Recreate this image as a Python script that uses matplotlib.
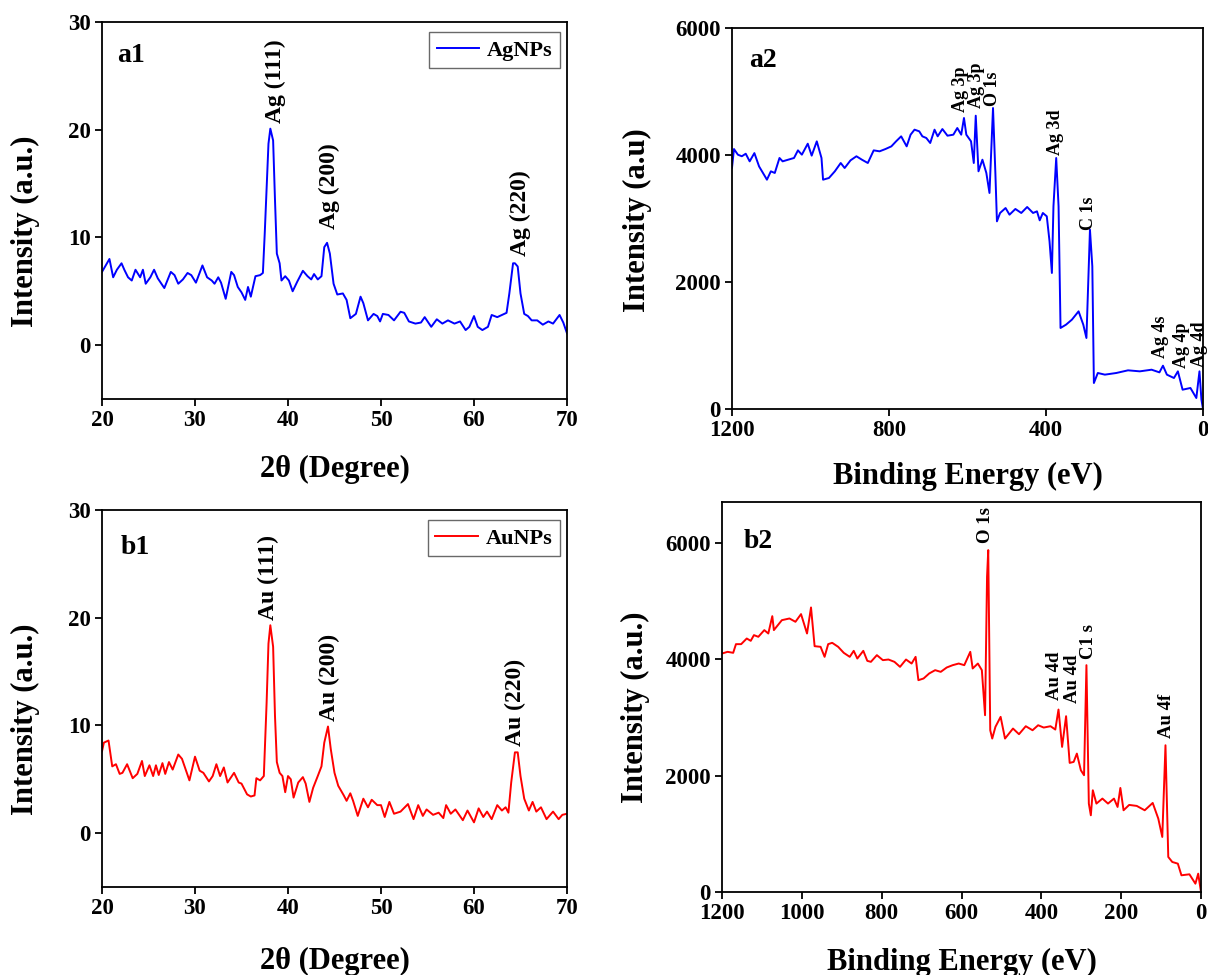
import matplotlib
matplotlib.use('Agg')
import matplotlib.pyplot as plt

plt.rcParams['font.family'] = ['Liberation Serif', 'DejaVu Serif']
plt.rcParams['font.weight'] = 'bold'
plt.rcParams['axes.labelweight'] = 'bold'

# XRD pattern, silver nanoparticles
ag_2theta = [20.0, 20.8, 21.2, 21.6, 22.1, 22.4, 22.8, 23.2, 23.6, 24.1, 24.4, 24.7,
             25.2, 25.6, 26.0, 26.7, 27.4, 27.8, 28.2, 28.7, 29.2, 29.6, 30.1, 30.8,
             31.3, 31.8, 32.1, 32.5, 32.8, 33.3, 33.9, 34.2, 34.6, 35.0, 35.4, 35.7,
             36.0, 36.5, 37.0, 37.3, 37.5, 37.9, 38.1, 38.4, 38.6, 38.8, 39.1, 39.3,
             39.7, 40.1, 40.5, 41.0, 41.6, 42.1, 42.5, 42.8, 43.2, 43.6, 43.9, 44.2,
             44.5, 44.9, 45.3, 45.9, 46.3, 46.7, 47.3, 47.8, 48.1, 48.6, 49.2, 49.6,
             49.9, 50.2, 50.8, 51.4, 52.1, 52.5, 53.0, 53.7, 54.3, 54.7, 55.4, 56.0,
             56.6, 57.2, 57.9, 58.5, 59.1, 59.5, 60.0, 60.4, 60.9, 61.5, 61.9, 62.5,
             63.0, 63.5, 63.8, 64.2, 64.4, 64.7, 65.0, 65.4, 65.8, 66.2, 66.8, 67.4,
             68.0, 68.5, 69.2, 69.6, 70.0]
ag_xrd = [6.8, 8.0, 6.3, 7.0, 7.6, 7.0, 6.3, 6.0, 7.0, 6.3, 7.0, 5.7,
          6.3, 7.0, 6.2, 5.3, 6.8, 6.5, 5.7, 6.1, 6.7, 6.5, 5.8, 7.4,
          6.3, 6.0, 5.7, 6.3, 5.8, 4.3, 6.8, 6.5, 5.4, 4.9, 4.2, 5.4,
          4.5, 6.4, 6.5, 6.7, 10.4, 18.7, 20.1, 19.0, 13.5, 8.5, 7.6, 6.0,
          6.4, 6.0, 5.0, 5.9, 6.9, 6.4, 6.1, 6.6, 6.1, 6.4, 9.1, 9.5,
          8.5, 5.7, 4.7, 4.8, 4.2, 2.5, 2.9, 4.5, 3.9, 2.3, 2.9, 2.7,
          2.2, 2.9, 2.8, 2.3, 3.1, 3.0, 2.2, 2.0, 2.1, 2.6, 1.7, 2.4,
          2.0, 2.3, 2.0, 2.2, 1.4, 1.7, 2.7, 1.7, 1.4, 1.7, 2.8, 2.6,
          2.8, 3.0, 4.8, 7.6, 7.6, 7.3, 4.8, 2.9, 2.7, 2.3, 2.3, 1.9,
          2.2, 2.0, 2.8, 2.1, 1.1]

# XRD pattern, gold nanoparticles
au_2theta = [20.0, 20.2, 20.7, 21.1, 21.5, 21.9, 22.2, 22.7, 23.3, 23.8, 24.3, 24.6,
             25.1, 25.5, 25.8, 26.1, 26.5, 26.8, 27.2, 27.6, 28.2, 28.6, 29.0, 29.4,
             30.0, 30.5, 30.9, 31.5, 31.9, 32.3, 32.7, 33.1, 33.5, 34.2, 34.7, 35.0,
             35.6, 36.0, 36.4, 36.6, 37.0, 37.4, 37.7, 37.9, 38.1, 38.4, 38.6, 38.8,
             39.1, 39.4, 39.7, 40.0, 40.3, 40.6, 41.1, 41.6, 41.9, 42.3, 42.7, 43.2,
             43.6, 43.9, 44.3, 44.6, 45.0, 45.4, 46.0, 46.3, 46.7, 47.0, 47.5, 48.1,
             48.6, 49.0, 49.6, 50.0, 50.4, 50.9, 51.4, 52.1, 52.9, 53.5, 54.0, 54.5,
             54.9, 55.6, 56.2, 56.7, 57.0, 57.5, 58.0, 58.8, 59.3, 60.0, 60.5, 61.0,
             61.4, 61.9, 62.5, 63.0, 63.4, 63.7, 64.0, 64.4, 64.7, 65.0, 65.4, 65.9,
             66.3, 66.7, 67.2, 67.8, 68.5, 69.1, 69.5, 70.0]
au_xrd = [7.6, 8.4, 8.6, 6.2, 6.4, 5.5, 5.6, 6.4, 5.1, 5.5, 6.7, 5.3,
          6.3, 5.3, 6.3, 5.4, 6.5, 5.5, 6.6, 5.9, 7.3, 6.9, 5.9, 4.9,
          7.1, 5.8, 5.6, 4.8, 5.3, 6.4, 5.3, 6.1, 4.7, 5.6, 4.7, 4.6,
          3.6, 3.4, 3.5, 5.1, 4.9, 5.3, 12.1, 17.6, 19.3, 17.3, 10.9, 6.6,
          5.6, 5.3, 3.8, 5.3, 5.0, 3.3, 4.7, 5.2, 4.6, 2.9, 4.2, 5.3,
          6.2, 8.4, 9.9, 7.8, 5.6, 4.4, 3.5, 3.0, 3.7, 3.0, 1.6, 3.2,
          2.4, 3.1, 2.6, 2.6, 1.5, 2.9, 1.8, 2.0, 2.7, 1.3, 2.6, 1.6,
          2.2, 1.7, 1.9, 1.4, 2.6, 1.8, 2.2, 1.2, 2.1, 1.0, 2.3, 1.5,
          2.0, 1.3, 2.6, 2.1, 2.4, 1.9, 4.7, 7.5, 7.5, 5.3, 3.2, 2.1,
          2.9, 2.0, 2.4, 1.3, 2.0, 1.3, 1.7, 1.8]

# XPS survey, silver nanoparticles
ag_be = [1200, 1195, 1185, 1175, 1165, 1155, 1143, 1131, 1116, 1111, 1101, 1091,
         1079, 1071, 1057, 1042, 1032, 1022, 1007, 997, 984, 972, 968, 953,
         938, 923, 913, 898, 883, 869, 854, 839, 824, 809, 794, 782,
         769, 755, 745, 735, 723, 715, 705, 695, 684, 676, 664, 651,
         636, 626, 616, 609, 603, 591, 584, 579, 572, 562, 552, 544,
         535, 529, 525, 517, 503, 493, 478, 463, 448, 433, 423, 416,
         408, 398, 391, 385, 381, 374, 368, 363, 349, 334, 317, 305,
         297, 288, 282, 278, 268, 250, 221, 191, 161, 131, 111, 102,
         92, 74, 64, 52, 32, 17, 9, 4, 0]
ag_xps = [3800, 4094, 4005, 3980, 4020, 3900, 4030, 3820, 3664, 3611, 3743, 3717,
          3953, 3900, 3926, 3953, 4073, 4005, 4178, 3990, 4215, 3953, 3611, 3638,
          3743, 3874, 3795, 3916, 3980, 3926, 3874, 4073, 4058, 4094, 4136, 4215,
          4294, 4136, 4320, 4399, 4373, 4294, 4268, 4189, 4399, 4294, 4409, 4304,
          4320, 4425, 4320, 4583, 4320, 4215, 3874, 4619, 3743, 3926, 3717, 3402,
          4740, 3717, 2955, 3087, 3165, 3060, 3150, 3087, 3181, 3087, 3113, 2971,
          3087, 3034, 2640, 2142, 3192, 3953, 3192, 1276, 1328, 1407, 1538, 1328,
          1118, 2824, 2247, 409, 567, 541, 567, 609, 593, 619, 577, 682,
          541, 488, 593, 304, 331, 173, 593, 147, 0]

# XPS survey, gold nanoparticles
au_be = [1200, 1186, 1172, 1165, 1152, 1138, 1128, 1120, 1109, 1094, 1084, 1074,
         1070, 1060, 1050, 1031, 1016, 1002, 987, 977, 968, 953, 943, 934,
         924, 909, 895, 880, 870, 861, 846, 836, 827, 812, 797, 783,
         768, 754, 739, 725, 715, 708, 695, 681, 666, 652, 637, 622,
         607, 593, 578, 572, 559, 549, 541, 536, 533, 528, 523, 515,
         502, 491, 471, 456, 439, 422, 408, 394, 377, 365, 357, 348,
         338, 329, 319, 311, 301, 293, 287, 281, 276, 271, 262, 247,
         233, 218, 209, 202, 194, 180, 161, 141, 121, 107, 97, 89,
         82, 72, 58, 49, 29, 14, 7, 0]
au_xps = [4097, 4126, 4109, 4258, 4258, 4355, 4315, 4413, 4384, 4499, 4441, 4739,
          4499, 4585, 4670, 4699, 4642, 4774, 4441, 4888, 4223, 4212, 4040, 4258,
          4281, 4212, 4109, 4040, 4143, 4011, 4143, 3971, 3954, 4069, 3983, 3994,
          3954, 3868, 3994, 3925, 4040, 3639, 3668, 3754, 3811, 3782, 3857, 3897,
          3925, 3897, 4126, 3840, 3925, 3811, 3037, 5415, 5874, 2779, 2636, 2837,
          3009, 2636, 2808, 2711, 2848, 2779, 2865, 2825, 2848, 2791, 3135, 2493,
          3020, 2218, 2235, 2378, 2092, 2006, 3897, 1519, 1318, 1748, 1519, 1605,
          1519, 1605, 1461, 1788, 1404, 1496, 1479, 1404, 1530, 1261, 946, 2521,
          602, 516, 487, 287, 304, 143, 315, 0]

# peak labels: text, x, y
ag_xrd_peaks = [('Ag (111)', 38.6, 20.6), ('Ag (200)', 44.5, 10.8), ('Ag (220)', 65.0, 8.3)]
au_xrd_peaks = [('Au (111)', 37.9, 19.8), ('Au (200)', 44.5, 10.4), ('Au (220)', 64.5, 8.1)]
ag_xps_peaks = [('Ag 3p', 618, 4680), ('Ag 3p', 578, 4740), ('O 1s', 537, 4770),
                ('Ag 3d', 376, 4000), ('C 1s', 291, 2820), ('Ag 4s', 109, 800),
                ('Ag 4p', 55, 645), ('Ag 4d', 10, 660)]
au_xps_peaks = [('O 1s', 539, 5990), ('Au 4d', 368, 3290), ('Au 4d', 323, 3240),
                ('C1 s', 283, 4000), ('Au 4f', 87, 2640)]

W, H = 1208, 975
fig = plt.figure(figsize=(W / 100, H / 100), dpi=100)


def add_axes(left, top, right, bottom):
    return fig.add_axes([left / W, 1 - bottom / H, (right - left) / W, (bottom - top) / H])


ax_a1 = add_axes(102, 22, 567, 399)
ax_a2 = add_axes(732, 28, 1203, 409)
ax_b1 = add_axes(102, 510, 567, 887)
ax_b2 = add_axes(722, 502, 1201, 892)


def style(ax, ylabel, xlabel, ylab_xy, xlab_y):
    for s in ax.spines.values():
        s.set_linewidth(1.3)
    ax.tick_params(direction='out', length=5, width=1.3, labelsize=16.5, pad=3,
                   top=False, right=False)
    for t in ax.get_xticklabels() + ax.get_yticklabels():
        t.set_fontweight('bold')
    ax.set_ylabel(ylabel, fontsize=22, fontweight='bold')
    ax.set_xlabel(xlabel, fontsize=22, fontweight='bold')
    ax.yaxis.set_label_coords(*ylab_xy)
    ax.xaxis.set_label_coords(0.5, xlab_y)


# a1: XRD silver
ax_a1.plot(ag_2theta, ag_xrd, color='#0000ff', lw=1.4, label='AgNPs')
ax_a1.set_xlim(20, 70)
ax_a1.set_ylim(-5, 30)
ax_a1.set_xticks(range(20, 71, 10))
ax_a1.set_yticks([0, 10, 20, 30])
for txt, x, y in ag_xrd_peaks:
    ax_a1.text(x, y, txt, rotation=90, ha='center', va='bottom', fontsize=17, fontweight='bold')
ax_a1.text(0.032, 0.91, 'a1', transform=ax_a1.transAxes, fontsize=20, fontweight='bold', va='center')
style(ax_a1, 'Intensity (a.u.)', '2θ (Degree)', (-0.133, 0.446), -0.148)

# b1: XRD gold
ax_b1.plot(au_2theta, au_xrd, color='#ff0000', lw=1.4, label='AuNPs')
ax_b1.set_xlim(20, 70)
ax_b1.set_ylim(-5, 30)
ax_b1.set_xticks(range(20, 71, 10))
ax_b1.set_yticks([0, 10, 20, 30])
for txt, x, y in au_xrd_peaks:
    ax_b1.text(x, y, txt, rotation=90, ha='center', va='bottom', fontsize=17, fontweight='bold')
ax_b1.text(0.04, 0.90, 'b1', transform=ax_b1.transAxes, fontsize=20, fontweight='bold', va='center')
style(ax_b1, 'Intensity (a.u.)', '2θ (Degree)', (-0.133, 0.446), -0.158)

for ax in (ax_a1, ax_b1):
    leg = ax.legend(loc='upper right', bbox_to_anchor=(0.985, 0.973), borderaxespad=0,
                    fancybox=False, handlelength=1.9, handletextpad=0.35, borderpad=0.35,
                    prop={'size': 16, 'weight': 'bold'})
    leg.get_frame().set_edgecolor('#444444')
    leg.get_frame().set_linewidth(1.0)

# a2: XPS silver
ax_a2.plot(ag_be, ag_xps, color='#0000ff', lw=1.4)
ax_a2.set_xlim(1200, 0)
ax_a2.set_ylim(0, 6000)
ax_a2.set_xticks([1200, 800, 400, 0])
ax_a2.set_yticks([0, 2000, 4000, 6000])
for txt, x, y in ag_xps_peaks:
    ax_a2.text(x, y, txt, rotation=90, ha='center', va='bottom', fontsize=13, fontweight='bold')
ax_a2.text(0.036, 0.915, 'a2', transform=ax_a2.transAxes, fontsize=20, fontweight='bold', va='center')
style(ax_a2, 'Intensity (a.u)', 'Binding Energy (eV)', (-0.170, 0.496), -0.139)

# b2: XPS gold
ax_b2.plot(au_be, au_xps, color='#ff0000', lw=1.4)
ax_b2.set_xlim(1200, 0)
ax_b2.set_ylim(0, 6700)
ax_b2.set_xticks(range(1200, -1, -200))
ax_b2.set_yticks([0, 2000, 4000, 6000])
for txt, x, y in au_xps_peaks:
    ax_b2.text(x, y, txt, rotation=90, ha='center', va='bottom', fontsize=13.5, fontweight='bold')
ax_b2.text(0.045, 0.9, 'b2', transform=ax_b2.transAxes, fontsize=20, fontweight='bold', va='center')
style(ax_b2, 'Intensity (a.u.)', 'Binding Energy (eV)', (-0.150, 0.474), -0.144)

fig.savefig('out.png', dpi=100)
